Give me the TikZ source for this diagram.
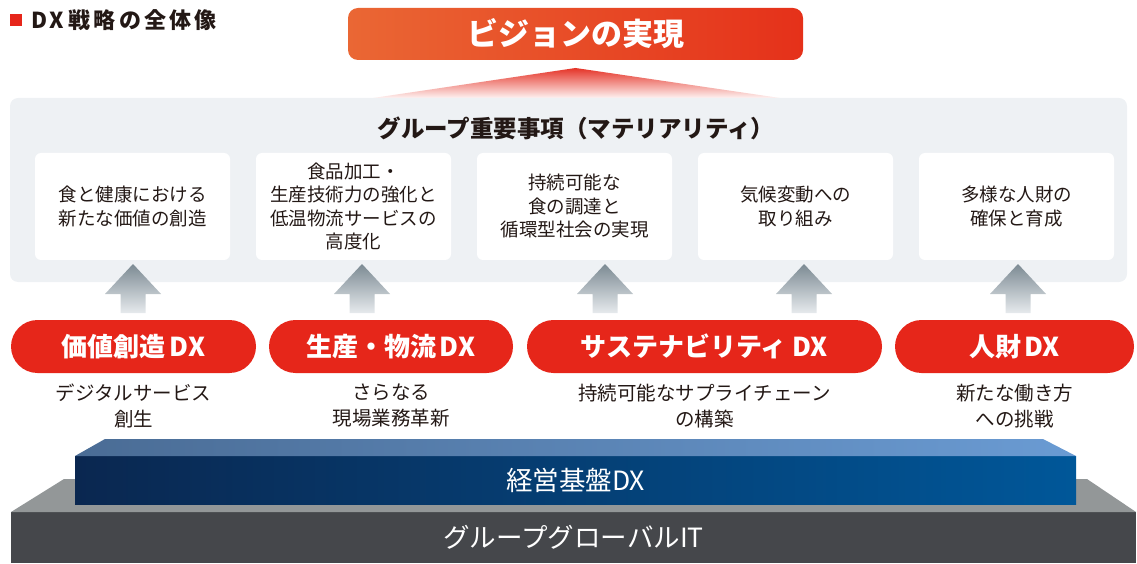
\documentclass[tikz,border=0pt]{standalone}
\usepackage{fontspec}
\setmainfont{Noto Sans CJK JP}
\usetikzlibrary{positioning}
\definecolor{dxred}{HTML}{E6261A}
\definecolor{ink}{HTML}{231815}
\definecolor{panelgray}{HTML}{EEF1F4}
\definecolor{arrowtop}{HTML}{7C8A93}
\definecolor{arrowbot}{HTML}{E6EAED}
\definecolor{visionleft}{HTML}{EA6734}
\definecolor{visionright}{HTML}{E5311A}
\definecolor{rayred}{HTML}{E53428}
\definecolor{itfront}{HTML}{45474B}
\definecolor{ittop}{HTML}{939798}
\definecolor{navyleft}{HTML}{0A2750}
\definecolor{navyright}{HTML}{005799}
\definecolor{skyleft}{HTML}{4A6C95}
\definecolor{skyright}{HTML}{6A9BD3}
\tikzset{
x=1pt, y=1pt, % one unit is one pixel of the layout
every node/.style={inner sep=0pt, outer sep=0pt}, % nodes sit exactly on their boxes
theme/.style={fill=white, rounded corners=6pt, minimum width=195pt, minimum height=107pt, text=ink, align=center, font=\fontsize{18.5}{23.5}\selectfont}, % white materiality boxes
pill/.style={fill=dxred, rounded corners=26.5pt, minimum height=53pt, text=white, font=\fontsize{26}{30}\selectfont\bfseries}, % red DX pills
subtext/.style={text=ink, align=center, font=\fontsize{19.5}{26}\selectfont}, % captions under the pills
slabtext/.style={text=white, font=\fontsize{26.5}{30}\selectfont}, % labels on the two base slabs
}

\begin{document}
\begin{tikzpicture}[node distance=26pt]
    \useasboundingbox (0,0) rectangle (1137,563);
    % title
    \node[fill=dxred, minimum size=12pt] (mark) at (16,543) {};
    \node[right=9pt of mark, text=ink, font=\fontsize{22}{26}\selectfont\bfseries\addfontfeature{LetterSpace=14}] (title) {DX\hspace{5pt}戦略の全体像};
    % vision
    \node[left color=visionleft, right color=visionright, rounded corners=10pt,
          minimum width=455pt, minimum height=52pt, text=white, font=\fontsize{31}{36}\selectfont\bfseries] (vision) at (575.5,529) {ビジョンの実現};
    \shade[top color=rayred, bottom color=dxred!6] (373,465) -- ([yshift=-8pt]vision.south) -- (780,465) -- cycle;
    % materiality panel
    \node[fill=panelgray, rounded corners=8pt, minimum width=1117pt, minimum height=184pt] (panel) at (568.5,373) {};
    \node[text=ink, font=\fontsize{23.5}{28}\selectfont\bfseries] (header) at (576,435) {グループ重要事項（マテリアリティ）};
    \node[theme] (m1) at (132.5,356.5) {食と健康における\\新たな価値の創造};
    \node[theme, right=of m1] (m2) {食品加工・\\生産技術力の強化と\\低温物流サービスの\\高度化};
    \node[theme, right=of m2] (m3) {持続可能な\\食の調達と\\循環型社会の実現};
    \node[theme, right=of m3] (m4) {気候変動への\\取り組み};
    \node[theme, right=of m4] (m5) {多様な人財の\\確保と育成};
    % upward arrows
    \foreach \ax in {133,362,605,804,1018}
        \shade[top color=arrowtop, bottom color=arrowbot] (\ax-28,269) -- (\ax,299) -- (\ax+28,269) -- (\ax+12.5,269)
            -- (\ax+12.5,250) -- (\ax-12.5,250) -- (\ax-12.5,269) -- cycle;
    % DX pillars
    \node[pill, minimum width=245pt] (dx1) at (133.5,216.5) {価値創造\hspace{4pt}DX};
    \node[pill, minimum width=244pt, right=13pt of dx1] (dx2) {生産・物流\hspace{3pt}DX};
    \node[pill, minimum width=355pt, right=14pt of dx2] (dx3) {サステナビリティ DX};
    \node[pill, minimum width=239pt, right=13pt of dx3] (dx4) {人財\hspace{3pt}DX};
    \node[subtext, below=11pt of dx1] (s1) {デジタルサービス\\創生};
    \node[subtext, below=11pt of dx2] (s2) {さらなる\\現場業務革新};
    \node[subtext, below=11pt of dx3] (s3) {持続可能なサプライチェーン\\の構築};
    \node[subtext, below=11pt of dx4] (s4) {新たな働き方\\への挑戦};
    % base slabs
    \node[fill=itfront, minimum width=1125pt, minimum height=51pt, slabtext] (itbase) at (573.5,25.5) {グループグローバルIT};
    \fill[ittop] (itbase.north west) -- ++(53,33) -- ([xshift=-49pt,yshift=33pt]itbase.north east) -- (itbase.north east) -- cycle;
    \node[left color=navyleft, right color=navyright, minimum width=1001pt, minimum height=48pt, slabtext] (dxbase) at (575.5,83) {経営基盤DX};
    \shade[left color=skyleft, right color=skyright] (dxbase.north west) -- ++(30,17) -- ([xshift=-33pt,yshift=17pt]dxbase.north east) -- (dxbase.north east) -- cycle;
\end{tikzpicture}
\end{document}
